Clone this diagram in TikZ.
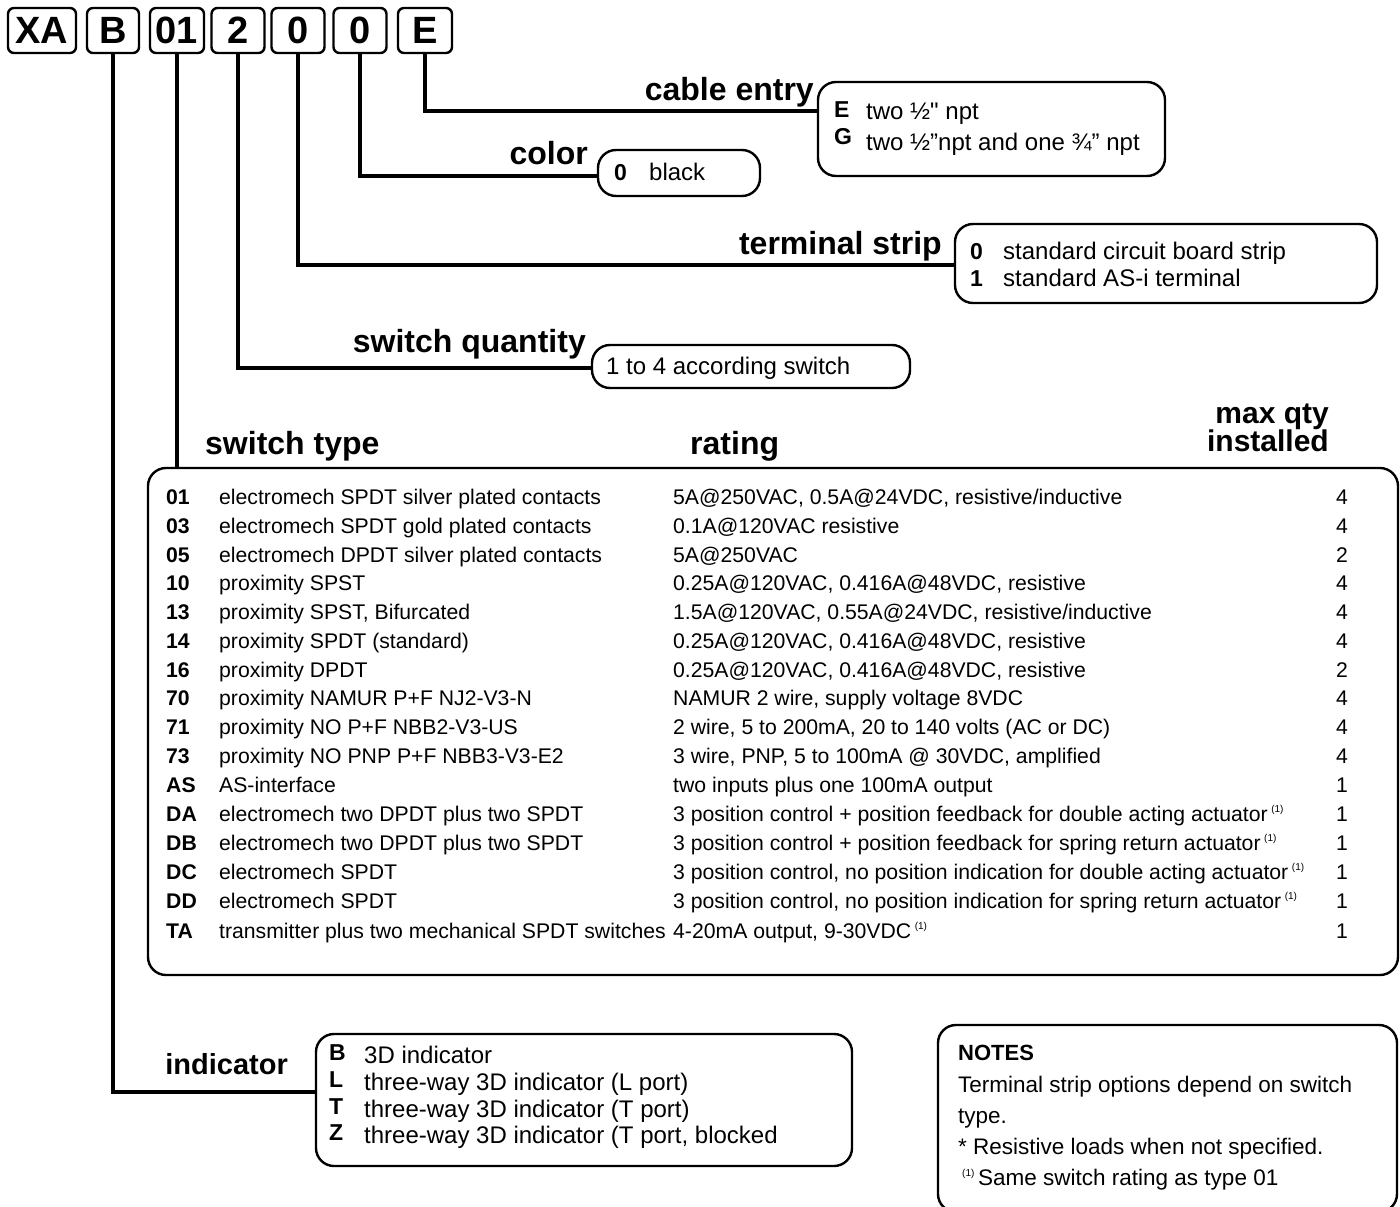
\documentclass[tikz,border=0pt]{standalone}
\usepackage{fontspec}
\setmainfont{Liberation Sans}
\newfontfamily\rawfont{Liberation Sans}
\usetikzlibrary{calc}
\newcommand\sz[1]{\fontsize{#1}{#1}\selectfont}
\newcommand\supone{\,\raisebox{9pt}{\sz{10}(1)}}
\newcommand\qt{{\rawfont"}}
\newcommand\trow[6]{%
  \node[ttxt,font=\sz{21.2}\bfseries] (#1c) at (166,#2) {#3};
  \node[ttxt] (#1d) at (219,#2) {#4};
  \node[ttxt] (#1r) at (673,#2) {#5};
  \node[ttxt,anchor=mid east] (#1q) at (1348,#2) {#6};}
\begin{document}
\begin{tikzpicture}[x=1pt,y=-1pt,
  codebox/.style={draw,line width=2.4pt,rounded corners=6pt,minimum height=45pt,inner sep=0pt,font=\sz{38}\bfseries},
  bigbox/.style={draw,line width=2.4pt,rounded corners=18pt,inner sep=0pt},
  conn/.style={line width=3.2pt},
  lbl/.style={anchor=mid east,inner sep=0pt,yshift=-8pt,font=\sz{32}\bfseries},
  txt/.style={anchor=mid west,inner sep=0pt,yshift=-5pt,font=\sz{24}},
  ttxt/.style={anchor=mid west,inner sep=0pt,yshift=-5pt,font=\sz{21.2}},
  ntxt/.style={anchor=mid west,inner sep=0pt,yshift=-5pt,font=\sz{22.5}},
  ltr/.style={anchor=mid west,inner sep=0pt,yshift=-5pt,font=\sz{23}\bfseries}]
\useasboundingbox (0,0) rectangle (1400,1207);
% code boxes
\node[codebox,minimum width=68pt] (cXA) at (42,30.5) {XA};
\node[codebox,minimum width=52pt] (cB) at (113,30.5) {B};
\node[codebox,minimum width=54pt] (c01) at (177,30.5) {01};
\node[codebox,minimum width=53pt] (c2) at (238,30.5) {2};
\node[codebox,minimum width=53pt] (c0a) at (298,30.5) {0};
\node[codebox,minimum width=53pt] (c0b) at (360,30.5) {0};
\node[codebox,minimum width=54pt] (cE) at (425,30.5) {E};
% option boxes
\node[bigbox,minimum width=347pt,minimum height=94pt] (cable) at (991.5,129) {};
\node[bigbox,minimum width=162pt,minimum height=46pt] (color) at (679,173) {};
\node[bigbox,minimum width=422pt,minimum height=79pt] (term) at (1166,263.5) {};
\node[bigbox,minimum width=318pt,minimum height=43pt] (qty) at (751,366.5) {};
\node[bigbox,minimum width=1250pt,minimum height=507pt] (table) at (773,721.5) {};
\node[bigbox,minimum width=536pt,minimum height=132pt] (ind) at (584,1100) {};
\node[bigbox,minimum width=459pt,minimum height=187pt] (notes) at (1167.5,1118.5) {};
% connectors
\draw[conn] (cE.south) |- (cable.west |- 0,111);
\draw[conn] (c0b.south) |- (color.west |- 0,176);
\draw[conn] (c0a.south) |- (term.west |- 0,265);
\draw[conn] (c2.south) |- (qty.west |- 0,368);
\draw[conn] (c01.south) -- (c01.south |- table.north);
\draw[conn] (cB.south) |- (ind.west |- 0,1092);
% labels
\node[lbl] (lcable) at (814,90) {cable entry};
\node[lbl] (lcolor) at (588,154) {color};
\node[lbl] (lterm) at (942,244) {terminal strip};
\node[lbl] (lqty) at (586,342) {switch quantity};
\node[lbl,anchor=mid west] (ltype) at (205,444) {switch type};
\node[lbl,anchor=mid west] (lrating) at (690,444) {rating};
\node[lbl,font=\sz{30}\bfseries] (lmax) at (1329,413) {max qty};
\node[lbl,font=\sz{30}\bfseries] (linst) at (1329,441) {installed};
\node[lbl,font=\sz{29}\bfseries] (lind) at (288,1064) {indicator};
% cable entry
\node[ltr] (eE) at (834,110) {E};
\node[txt] (eEt) at (866,112) {two ½\qt{} npt};
\node[ltr] (eG) at (834,137) {G};
\node[txt] (eGt) at (866,143) {two ½”npt and one ¾” npt};
% color
\node[ltr] (k0) at (614,173) {0};
\node[txt] (k0t) at (649,173) {black};
% terminal
\node[ltr] (t0) at (970,252) {0};
\node[txt] (t0t) at (1003,252) {standard circuit board strip};
\node[ltr] (t1) at (970,279) {1};
\node[txt] (t1t) at (1003,279) {standard AS-i terminal};
% quantity
\node[txt] (q1) at (606,367) {1 to 4 according switch};
% table rows
\trow{ra}{497}{01}{electromech SPDT silver plated contacts}{5A@250VAC, 0.5A@24VDC, resistive/inductive}{4}
\trow{rb}{526}{03}{electromech SPDT gold plated contacts}{0.1A@120VAC resistive}{4}
\trow{rc}{555}{05}{electromech DPDT silver plated contacts}{5A@250VAC}{2}
\trow{rd}{583}{10}{proximity SPST}{0.25A@120VAC, 0.416A@48VDC, resistive}{4}
\trow{re}{612}{13}{proximity SPST, Bifurcated}{1.5A@120VAC, 0.55A@24VDC, resistive/inductive}{4}
\trow{rf}{641}{14}{proximity SPDT (standard)}{0.25A@120VAC, 0.416A@48VDC, resistive}{4}
\trow{rg}{670}{16}{proximity DPDT}{0.25A@120VAC, 0.416A@48VDC, resistive}{2}
\trow{rh}{698}{70}{proximity NAMUR P+F NJ2-V3-N}{NAMUR 2 wire, supply voltage 8VDC}{4}
\trow{ri}{727}{71}{proximity NO P+F NBB2-V3-US}{2 wire, 5 to 200mA, 20 to 140 volts (AC or DC)}{4}
\trow{rj}{756}{73}{proximity NO PNP P+F NBB3-V3-E2}{3 wire, PNP, 5 to 100mA @ 30VDC, amplified}{4}
\trow{rk}{785}{AS}{AS-interface}{two inputs plus one 100mA output}{1}
\trow{rl}{814}{DA}{electromech two DPDT plus two SPDT}{3 position control + position feedback for double acting actuator\supone}{1}
\trow{rm}{843}{DB}{electromech two DPDT plus two SPDT}{3 position control + position feedback for spring return actuator\supone}{1}
\trow{rn}{872}{DC}{electromech SPDT}{3 position control, no position indication for double acting actuator\supone}{1}
\trow{ro}{901}{DD}{electromech SPDT}{3 position control, no position indication for spring return actuator\supone}{1}
\trow{rp}{931}{TA}{transmitter plus two mechanical SPDT switches}{4-20mA output, 9-30VDC\supone}{1}
% indicator
\node[ltr] (iB) at (329,1053) {B};
\node[txt] (iBt) at (364,1056) {3D indicator};
\node[ltr] (iL) at (329,1080) {L};
\node[txt] (iLt) at (364,1083) {three-way 3D indicator (L port)};
\node[ltr] (iT) at (329,1107) {T};
\node[txt] (iTt) at (364,1110) {three-way 3D indicator (T port)};
\node[ltr] (iZ) at (329,1133) {Z};
\node[txt] (iZt) at (364,1136) {three-way 3D indicator (T port, blocked};
% notes
\node[ltr,font=\sz{22}\bfseries] (nh) at (958,1053) {NOTES};
\node[ntxt] (n1) at (958,1085) {Terminal strip options depend on switch};
\node[ntxt] (n2) at (958,1116) {type.};
\node[ntxt] (n3) at (958,1147) {* Resistive loads when not specified.};
\node[ntxt] (n4) at (962,1178) {\raisebox{9pt}{\sz{10}(1)}\,Same switch rating as type 01};
\end{tikzpicture}
\end{document}
